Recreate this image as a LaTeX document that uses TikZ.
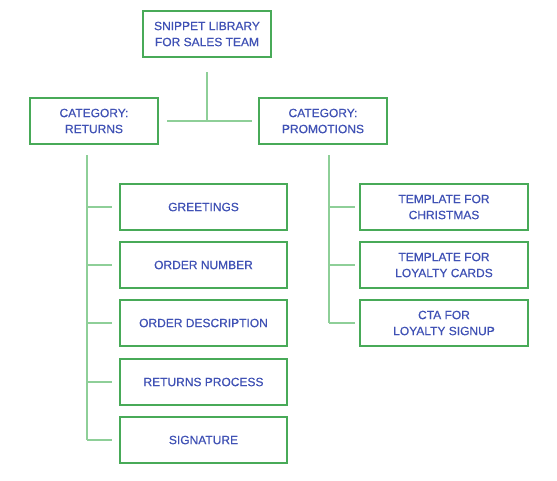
\documentclass[tikz,border=0pt]{standalone}
\usepackage{fontspec}
\setmainfont{Liberation Sans}
\newfontfamily\medfont{Liberation Sans}[FakeBold=0.5]
\definecolor{boxgreen}{HTML}{48AA58}
\definecolor{linegreen}{HTML}{8ECF98}
\definecolor{txtblue}{HTML}{3F51B5}
\begin{document}
\begin{tikzpicture}[x=1pt,y=-1pt,
  box/.style={draw=boxgreen, line width=1.1pt, fill=white, align=center, text=txtblue,
    minimum height=46pt, inner sep=2pt,
    font=\medfont\fontsize{12}{16}\selectfont},
  conn/.style={draw=linegreen, line width=1.3pt}]
\useasboundingbox (0,0) rectangle (557,480);
% nodes
\node[box, minimum width=128pt] (root) at (207,34) {SNIPPET LIBRARY\\FOR SALES TEAM};
\node[box, minimum width=128pt] (ret) at (94,121) {CATEGORY:\\RETURNS};
\node[box, minimum width=128pt] (pro) at (323,121) {CATEGORY:\\PROMOTIONS};
\node[box, minimum width=167pt] (l1) at (203.5,207) {GREETINGS};
\node[box, minimum width=167pt] (l2) at (203.5,265) {ORDER NUMBER};
\node[box, minimum width=167pt] (l3) at (203.5,323) {ORDER DESCRIPTION};
\node[box, minimum width=167pt] (l4) at (203.5,382) {RETURNS PROCESS};
\node[box, minimum width=167pt] (l5) at (203.5,440) {SIGNATURE};
\node[box, minimum width=168pt] (r1) at (444,207) {TEMPLATE FOR\\CHRISTMAS};
\node[box, minimum width=168pt] (r2) at (444,265) {TEMPLATE FOR\\LOYALTY CARDS};
\node[box, minimum width=168pt] (r3) at (444,323) {CTA FOR\\LOYALTY SIGNUP};
% connector end points
\coordinate (rootdown) at (207,72);
\coordinate (mid) at (207,121);
\coordinate (hl) at (167,121);
\coordinate (hr) at (252,121);
\coordinate (ltop) at (87,155);
\coordinate (rtop) at (329,155);
\coordinate (lb1) at (87,207);
\coordinate (lb2) at (87,265);
\coordinate (lb3) at (87,323);
\coordinate (lb4) at (87,382);
\coordinate (lb5) at (87,440);
\coordinate (rb1) at (329,207);
\coordinate (rb2) at (329,265);
\coordinate (rb3) at (329,323);
\coordinate (le1) at (112,207);
\coordinate (le2) at (112,265);
\coordinate (le3) at (112,323);
\coordinate (le4) at (112,382);
\coordinate (le5) at (112,440);
\coordinate (re1) at (355,207);
\coordinate (re2) at (355,265);
\coordinate (re3) at (355,323);
% connectors
\draw[conn] (rootdown) -- (mid);
\draw[conn] (hl) -- (hr);
\draw[conn] (ltop) -- (lb5);
\draw[conn] (rtop) -- (rb3);
\foreach \i in {1,...,5} \draw[conn] (lb\i) -- (le\i);
\foreach \i in {1,...,3} \draw[conn] (rb\i) -- (re\i);
\end{tikzpicture}
\end{document}
